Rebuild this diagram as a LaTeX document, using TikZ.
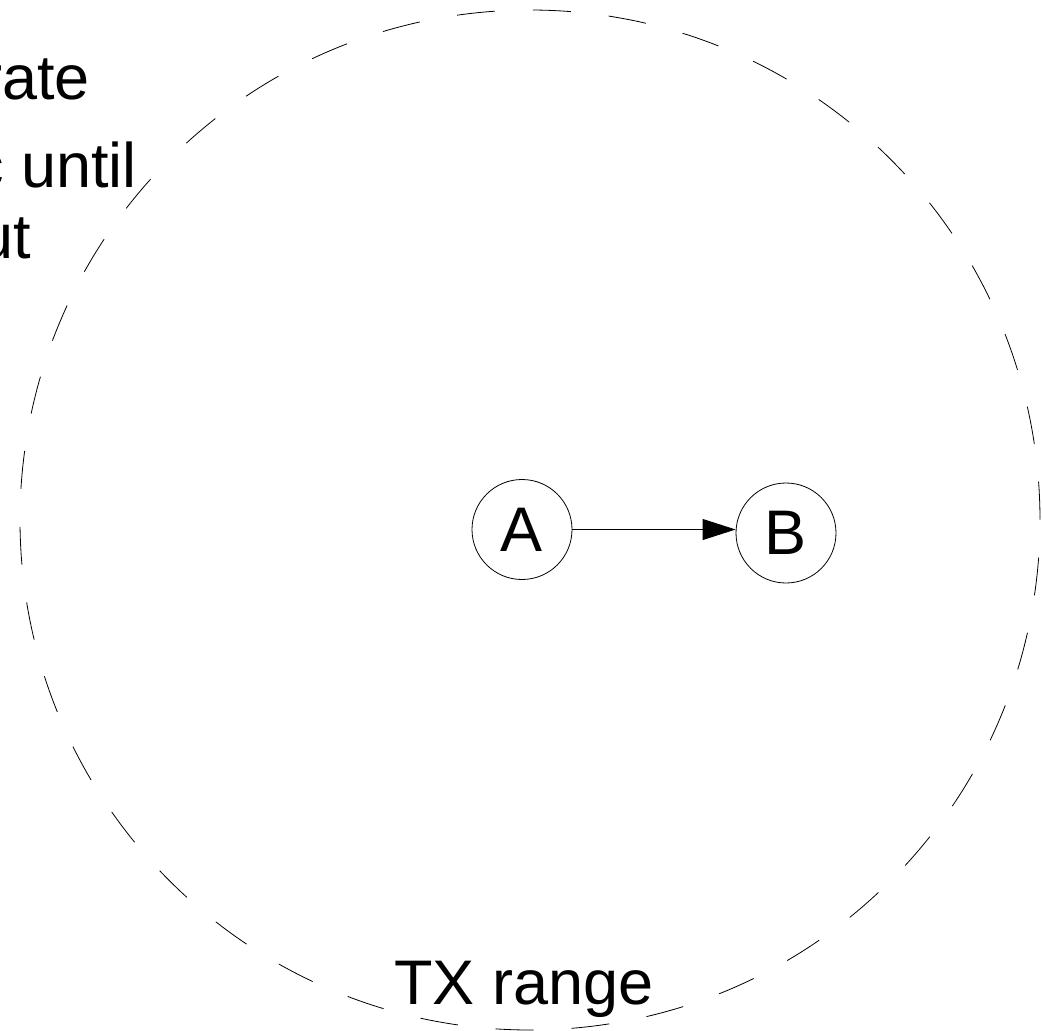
\documentclass[tikz,border=0pt]{standalone}
\usepackage{fontspec}
\setmainfont{Liberation Sans}
\usetikzlibrary{arrows.meta}
\begin{document}
\begin{tikzpicture}[x=1pt,y=-1pt,
  bigfont/.style={font=\fontsize{63}{75}\selectfont},
  station/.style={draw, circle, minimum size=100pt, inner sep=0pt, line width=0.8pt, bigfont},
  txt/.style={bigfont, inner sep=0pt},
  txrange/.style={draw, line width=0.8pt, dash pattern=on 38pt off 38pt, dash phase=52.5pt},
  link/.style={-{Triangle[length=33pt,width=21pt]}, line width=0.8pt}]
\useasboundingbox (0,0) rectangle (1042,1031);
\coordinate (C) at (530,520);
\draw[txrange] (C) ++(225:510) arc[start angle=225, end angle=585, radius=510];
\node[txt, anchor=base east] (t1) at (90,99) {rate};
\node[txt, anchor=base east] (t2) at (137,187) {c until};
\node[txt, anchor=base east] (t3) at (31,258) {ut};
\node[txt, anchor=base] (tx) at (524,1004) {TX range};
\node[station] (A) at (522,529.5) {A};
\node[station] (B) at (786,533) {B};
\draw[link] (A.east) -- (B.west |- A.east);
\end{tikzpicture}
\end{document}
